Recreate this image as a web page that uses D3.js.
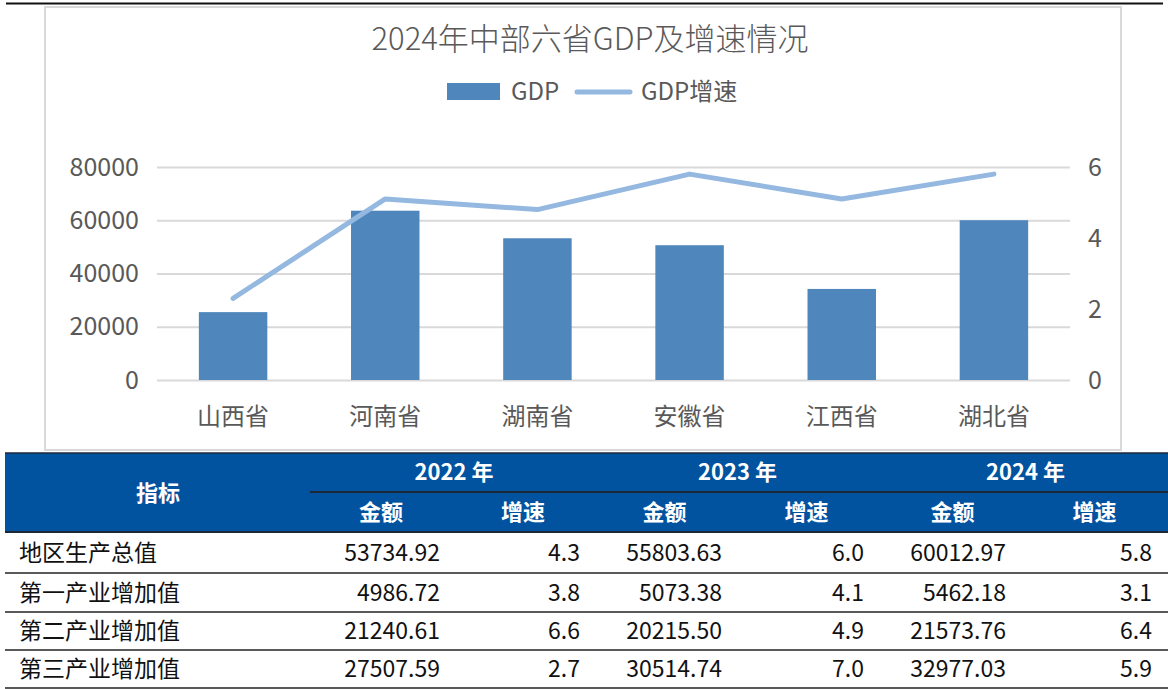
<!DOCTYPE html>
<html>
<head>
<meta charset="utf-8">
<script src="https://cdn.jsdelivr.net/npm/d3@7"></script>
<style>
  body { margin: 0; background: #fff; }
  svg text { font-family: "Noto Sans CJK SC", "Noto Sans", sans-serif; }
</style>
</head>
<body>
<svg id="chart" width="1168" height="689"></svg>
<script>
// chart data
const provinces = ['山西省', '河南省', '湖南省', '安徽省', '江西省', '湖北省'];
const gdp = [25494.9, 63589.99, 53231.1, 50625.0, 34202.5, 60012.97];
const gdpGrowth = [2.3, 5.1, 4.8, 5.8, 5.1, 5.8];
const leftTicks = [0, 20000, 40000, 60000, 80000];
const rightTicks = [0, 2, 4, 6];

// table data
const indicators = ['地区生产总值', '第一产业增加值', '第二产业增加值', '第三产业增加值'];
const years = ['2022 年', '2023 年', '2024 年'];
const amount2022 = [53734.92, 4986.72, 21240.61, 27507.59];
const rate2022 = [4.3, 3.8, 6.6, 2.7];
const amount2023 = [55803.63, 5073.38, 20215.50, 30514.74];
const rate2023 = [6.0, 4.1, 4.9, 7.0];
const amount2024 = [60012.97, 5462.18, 21573.76, 32977.03];
const rate2024 = [5.8, 3.1, 6.4, 5.9];

const svg = d3.select('#chart');
const textColor = '#595959';
const barColor = '#4f87bd';
const lineColor = '#94b8e0';

// chart frame + top rule
svg.append('rect').attr('x', 45).attr('y', 7).attr('width', 1076).attr('height', 443)
    .attr('fill', '#fff').attr('stroke', '#d9d9d9').attr('stroke-width', 2);
svg.append('line').attr('x1', 6).attr('x2', 1163).attr('y1', 3.5).attr('y2', 3.5)
    .attr('stroke', '#111').attr('stroke-width', 2);

// scales
const x = d3.scaleBand().domain(provinces).range([157, 1070]).paddingInner(0.55).paddingOuter(0.275);
const yLeft = d3.scaleLinear().domain([0, 80000]).range([380, 167]);
const yRight = d3.scaleLinear().domain([0, 6]).range([380, 167]);

// gridlines + left axis
const gLeft = svg.append('g').attr('transform', 'translate(157,0)')
    .call(d3.axisLeft(yLeft).tickValues(leftTicks).tickSize(-913).tickPadding(18).tickFormat(d3.format('d')));
gLeft.select('.domain').remove();
gLeft.selectAll('.tick line').attr('stroke', '#d9d9d9').attr('stroke-width', 2);
gLeft.selectAll('.tick text').attr('fill', textColor).attr('font-size', 25);

const gRight = svg.append('g').attr('transform', 'translate(1070,0)')
    .call(d3.axisRight(yRight).tickValues(rightTicks).tickSize(0).tickPadding(18).tickFormat(d3.format('d')));
gRight.select('.domain').remove();
gRight.selectAll('.tick text').attr('fill', textColor).attr('font-size', 25);

// bars
svg.append('g').selectAll('rect')
    .data(provinces)
    .join('rect')
    .attr('x', d => x(d))
    .attr('y', (d, i) => yLeft(gdp[i]))
    .attr('width', x.bandwidth())
    .attr('height', (d, i) => yLeft(0) - yLeft(gdp[i]))
    .attr('fill', barColor);

// growth line
const line = d3.line()
    .x((d, i) => x(provinces[i]) + x.bandwidth() / 2)
    .y(d => yRight(d));
svg.append('path').datum(gdpGrowth)
    .attr('d', line)
    .attr('fill', 'none')
    .attr('stroke', lineColor)
    .attr('stroke-width', 5)
    .attr('stroke-linecap', 'round')
    .attr('stroke-linejoin', 'round');

// category labels
svg.append('g').selectAll('text')
    .data(provinces)
    .join('text')
    .attr('x', d => x(d) + x.bandwidth() / 2)
    .attr('y', 417)
    .attr('dy', '0.35em')
    .attr('text-anchor', 'middle')
    .attr('fill', textColor)
    .attr('font-size', 24)
    .text(d => d);

// title
svg.append('text').attr('x', 590).attr('y', 50).attr('text-anchor', 'middle')
    .attr('fill', textColor).attr('font-size', 31).attr('font-weight', 300).text('2024年中部六省GDP及增速情况');

// legend
svg.append('rect').attr('x', 447).attr('y', 83).attr('width', 53).attr('height', 17).attr('fill', barColor);
svg.append('text').attr('x', 511).attr('y', 100).attr('fill', textColor).attr('font-size', 24).text('GDP');
svg.append('line').attr('x1', 577).attr('x2', 630).attr('y1', 92).attr('y2', 92)
    .attr('stroke', lineColor).attr('stroke-width', 5).attr('stroke-linecap', 'round');
svg.append('text').attr('x', 641).attr('y', 100).attr('fill', textColor).attr('font-size', 24).text('GDP增速');

// ---- table ----
const tableLeft = 5, tableRight = 1168;
const headTop = 453, headMid = 492, headBottom = 532;
const rowEdges = [532, 573, 612, 650, 688];
const groupX = [310, 592, 877, 1168];
const headBlue = '#02539f';
const rule = '#1c2838';

const table = svg.append('g');
table.append('rect').attr('x', tableLeft).attr('y', headTop)
    .attr('width', tableRight - tableLeft).attr('height', headBottom - headTop).attr('fill', headBlue);
table.append('line').attr('x1', tableLeft).attr('x2', tableRight).attr('y1', headTop).attr('y2', headTop)
    .attr('stroke', rule).attr('stroke-width', 1.5);
table.append('line').attr('x1', groupX[0]).attr('x2', tableRight).attr('y1', headMid).attr('y2', headMid)
    .attr('stroke', rule).attr('stroke-width', 2);
table.append('line').attr('x1', tableLeft).attr('x2', tableRight).attr('y1', headBottom).attr('y2', headBottom)
    .attr('stroke', rule).attr('stroke-width', 2);

table.append('text').attr('x', 158).attr('y', 493).attr('dy', '0.35em').attr('text-anchor', 'middle')
    .attr('fill', '#fff').attr('font-size', 22).attr('font-weight', 'bold').text('指标');

years.forEach((yr, j) => {
    const x0 = groupX[j], x1 = groupX[j + 1];
    const mid = (x0 + x1) / 2;
    table.append('text').attr('x', mid + 3).attr('y', 472).attr('dy', '0.35em').attr('text-anchor', 'middle')
        .attr('fill', '#fff').attr('font-size', 22).attr('font-weight', 'bold').text(yr);
    table.append('text').attr('x', mid - 70).attr('y', 512).attr('dy', '0.35em').attr('text-anchor', 'middle')
        .attr('fill', '#fff').attr('font-size', 22).attr('font-weight', 'bold').text('金额');
    table.append('text').attr('x', mid + 72).attr('y', 512).attr('dy', '0.35em').attr('text-anchor', 'middle')
        .attr('fill', '#fff').attr('font-size', 22).attr('font-weight', 'bold').text('增速');
});

const amounts = [amount2022, amount2023, amount2024];
const rates = [rate2022, rate2023, rate2024];
const amountRight = [440, 722, 1006];
const rateRight = [580, 864, 1152];

indicators.forEach((name, i) => {
    const cy = (rowEdges[i] + rowEdges[i + 1]) / 2;
    table.append('text').attr('x', 19).attr('y', cy).attr('dy', '0.35em')
        .attr('fill', '#111').attr('font-size', 23).text(name);
    amounts.forEach((arr, j) => {
        table.append('text').attr('x', amountRight[j]).attr('y', cy).attr('dy', '0.35em')
            .attr('text-anchor', 'end').attr('fill', '#111').attr('font-size', 23)
            .text(d3.format('.2f')(arr[i]));
        table.append('text').attr('x', rateRight[j]).attr('y', cy).attr('dy', '0.35em')
            .attr('text-anchor', 'end').attr('fill', '#111').attr('font-size', 23)
            .text(d3.format('.1f')(rates[j][i]));
    });
    table.append('line').attr('x1', tableLeft).attr('x2', tableRight)
        .attr('y1', rowEdges[i + 1]).attr('y2', rowEdges[i + 1])
        .attr('stroke', '#222').attr('stroke-width', 1.5);
});
</script>
</body>
</html>
